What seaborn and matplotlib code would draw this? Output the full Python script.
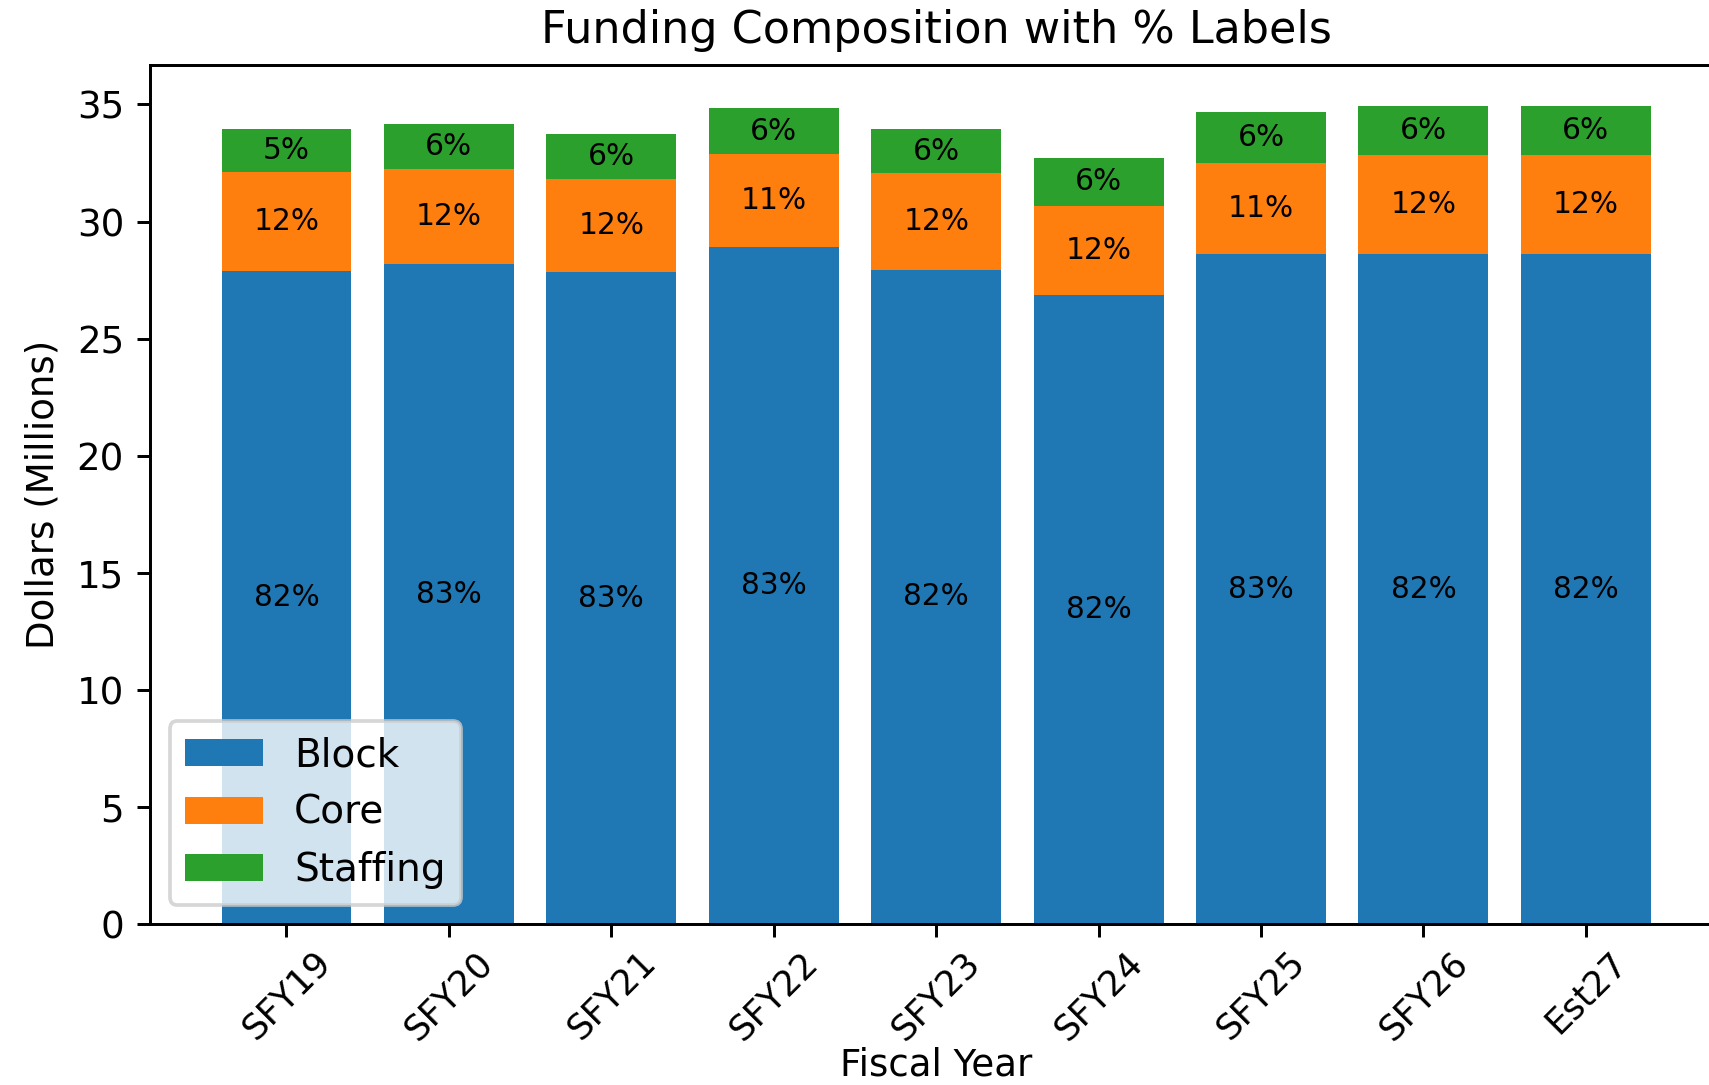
import numpy as np
import pandas as pd
import matplotlib
matplotlib.use("Agg")
import matplotlib.pyplot as plt
import seaborn as sns

# values (millions of dollars)
years = ['SFY19', 'SFY20', 'SFY21', 'SFY22', 'SFY23', 'SFY24', 'SFY25', 'SFY26', 'Est27']
block = [27.9, 28.2, 27.85, 28.9, 27.95, 26.88, 28.63, 28.63, 28.63]
core = [4.2, 4.05, 3.95, 3.98, 4.1, 3.8, 3.87, 4.23, 4.23]
staffing = [1.83, 1.9, 1.95, 1.95, 1.9, 2.04, 2.17, 2.07, 2.07]

series = ['Block', 'Core', 'Staffing']
colors = ['#1f77b4', '#ff7f0e', '#2ca02c']

df = pd.DataFrame({'Year': years, 'Block': block, 'Core': core, 'Staffing': staffing})
total = df[series].sum(axis=1).values

fig = plt.figure(figsize=(1709 / 267, 1085 / 267), dpi=267)
ax = fig.add_axes([0.0878, 0.148, 0.92, 0.792])

# stack the three series
bottom = np.zeros(len(df))
for name, col in zip(series, colors):
    sns.barplot(data=df, x='Year', y=name, order=years, color=col, saturation=1,
                errorbar=None, width=0.8, bottom=bottom, label=name, ax=ax)
    pct = df[name].values / total * 100
    ax.bar_label(ax.containers[-1], labels=[f"{p:.0f}%" for p in pct],
                 label_type='center', fontsize=8)
    bottom = bottom + df[name].values

ax.set_xlim(-0.84, 8.84)
ax.set_title('Funding Composition with % Labels')
ax.set_xlabel('Fiscal Year', labelpad=0)
ax.set_ylabel('Dollars (Millions)')
ax.tick_params(axis='x', labelsize=9.5, pad=2)
plt.setp(ax.get_xticklabels(), rotation=45)
ax.legend(loc='lower left', fontsize=10.5)

fig.savefig('out.png', dpi=267)
